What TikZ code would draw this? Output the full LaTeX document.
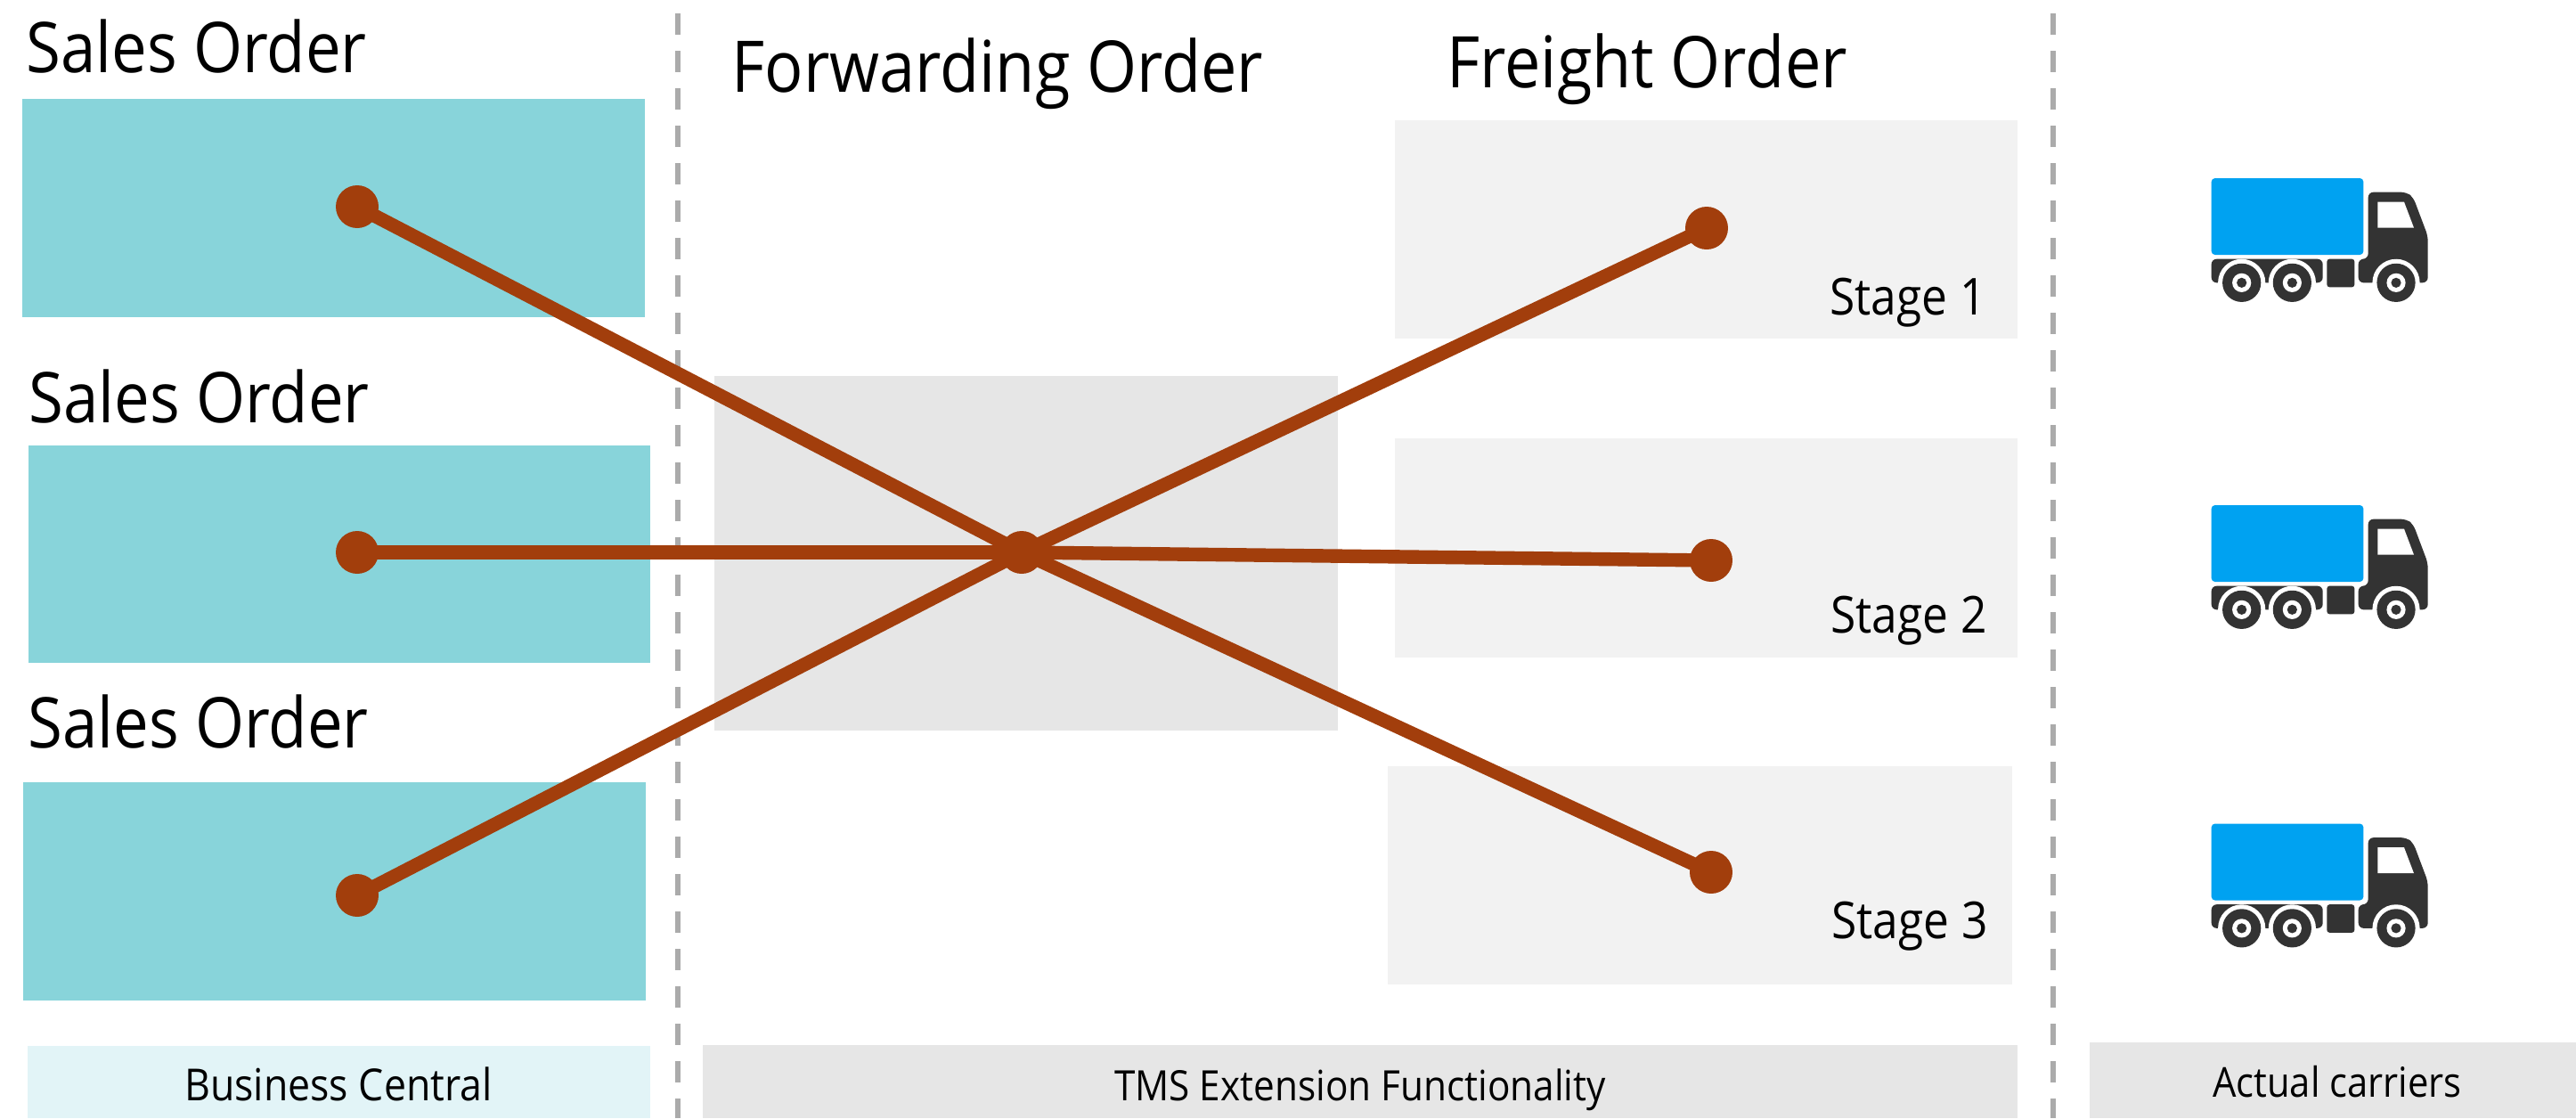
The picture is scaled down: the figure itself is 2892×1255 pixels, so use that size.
\documentclass[tikz,border=0pt]{standalone}
\usepackage{fontspec}
\setmainfont[FakeStretch=0.9]{Open Sans}
\definecolor{teal}{HTML}{88D4DA}
\definecolor{lightteal}{HTML}{E2F4F7}
\definecolor{greya}{HTML}{E6E6E6}
\definecolor{greyb}{HTML}{F2F2F2}
\definecolor{rust}{HTML}{A23E0C}
\definecolor{dash}{HTML}{ABABAB}
\definecolor{truckblue}{HTML}{00A2F1}
\definecolor{truckdark}{HTML}{333333}
\tikzset{
  box/.style={anchor=north west,inner sep=0pt,outer sep=0pt,draw=none},
  title/.style={anchor=base west,inner sep=0pt,font=\fontsize{40}{40}\selectfont},
  salestitle/.style={title,font=\fontsize{39.3}{40}\selectfont},
  stagetext/.style={anchor=base,inner sep=0pt,font=\fontsize{28.6}{29}\selectfont},
  bartext/.style={anchor=base,inner sep=0pt,font=\fontsize{23.5}{24}\selectfont},
  dot/.style={circle,fill=rust,inner sep=0pt,outer sep=0pt,minimum size=24pt},
  link/.style={draw=rust,line width=7.7pt},
  divider/.style={draw=dash,line width=3.2pt,dash pattern=on 12pt off 9pt},
  pics/truck/.style={code={
    \begin{scope}[x=0.16667pt,y=-0.16667pt]
    \fill[truckblue,rounded corners=2pt] (128,90) rectangle (640,348);
    \fill[truckdark,rounded corners=3pt] (128,362) rectangle (503,442);
    \fill[truckdark,rounded corners=1.5pt] (517,362) rectangle (610,457);
    \fill[truckdark,rounded corners=3pt] (623,442) -- (623,362) -- (656,362) -- (656,137) -- (785,137) -- (808,155) -- (857,285) -- (857,442) -- cycle;
    \fill[white] (688,170) -- (777,170) -- (810,257) -- (688,257) -- cycle;
    \foreach \wx in {230,400,750}{
      \fill[white] (\wx,442) circle[radius=13.3pt];
      \fill[truckdark] (\wx,442) circle[radius=10.8pt];
      \fill[white] (\wx,442) circle[radius=5.3pt];
      \fill[truckdark] (\wx,442) circle[radius=2.8pt];
    }
    \end{scope}
  }}
}
\begin{document}
\begin{tikzpicture}[x=0.5pt,y=-0.5pt]
\useasboundingbox (0,0) rectangle (2892,1255);
% boxes
\node[box,fill=teal,minimum width=349.5pt,minimum height=122.5pt] (so1) at (25,111) {};
\node[box,fill=teal,minimum width=349pt,minimum height=122pt] (so2) at (32,500) {};
\node[box,fill=teal,minimum width=349.5pt,minimum height=122.5pt] (so3) at (26,878) {};
\node[box,fill=greya,minimum width=350pt,minimum height=199pt] (fwd) at (802,422) {};
\node[box,fill=greyb,minimum width=349.5pt,minimum height=122.5pt] (st1) at (1566,135) {};
\node[box,fill=greyb,minimum width=349.5pt,minimum height=123pt] (st2) at (1566,492) {};
\node[box,fill=greyb,minimum width=350.5pt,minimum height=122.5pt] (st3) at (1558,860) {};
\node[box,fill=lightteal,minimum width=349.5pt,minimum height=40.5pt] (barb) at (31,1174) {};
\node[box,fill=greya,minimum width=738pt,minimum height=41pt] (bart) at (789,1173) {};
\node[box,fill=greya,minimum width=273pt,minimum height=42.5pt] (barc) at (2346,1170) {};
% dividers
\coordinate (d1a) at (761,15); \coordinate (d1b) at (761,1255);
\coordinate (d2a) at (2305,15); \coordinate (d2b) at (2305,1255);
\draw[divider] (d1a) -- (d1b);
\draw[divider] (d2a) -- (d2b);
% dots
\node[dot] (a1) at (401,232) {};
\node[dot] (a2) at (401,620) {};
\node[dot] (a3) at (401,1005) {};
\node[dot] (hub) at (1147,620) {};
\node[dot] (b1) at (1916,256) {};
\node[dot] (b2) at (1921,629) {};
\node[dot] (b3) at (1921,979) {};
\draw[link] (a1.center) -- (hub.center);
\draw[link] (a2.center) -- (hub.center);
\draw[link] (a3.center) -- (hub.center);
\draw[link] (hub.center) -- (b1.center);
\draw[link] (hub.center) -- (b2.center);
\draw[link] (hub.center) -- (b3.center);
% titles
\node[salestitle] (t1) at (29,81) {Sales Order};
\node[salestitle] (t2) at (32,474) {Sales Order};
\node[salestitle] (t3) at (31,839) {Sales Order};
\node[title] (t4) at (821,103) {Forwarding Order};
\node[title] (t5) at (1624,98) {Freight Order};
\node[stagetext] (s1) at (2142,353) {Stage 1};
\node[stagetext] (s2) at (2143,710) {Stage 2};
\node[stagetext] (s3) at (2144,1053) {Stage 3};
\node[bartext,font=\fontsize{24.8}{25}\selectfont] (l1) at (380,1235) {Business Central};
\node[bartext] (l2) at (1527,1235) {TMS Extension Functionality};
\node[bartext,font=\fontsize{23.2}{24}\selectfont] (l3) at (2624,1231) {Actual carriers};
% trucks
\pic at (2440,170) {truck};
\pic at (2440,537) {truck};
\pic at (2440,894.5) {truck};
\end{tikzpicture}
\end{document}
